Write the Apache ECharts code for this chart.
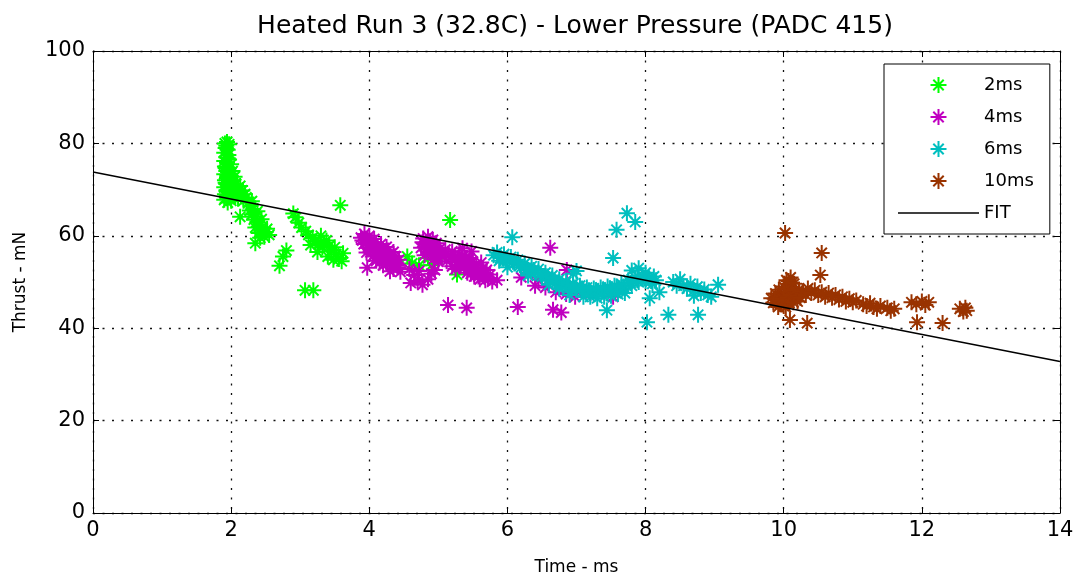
<!DOCTYPE html>
<html>
<head>
<meta charset="utf-8">
<script src="https://cdn.jsdelivr.net/npm/echarts@6/dist/echarts.min.js"></script>
<style>
  html, body { margin: 0; padding: 0; background: #fff; }
  #chart { width: 1078px; height: 581px; }
</style>
</head>
<body>
<div id="chart"></div>
<script>
// Thrust readings (mN) against time (ms) for each pulse width, plus a linear fit.
const xTicks = [0, 2, 4, 6, 8, 10, 12, 14];
const yTicks = [0, 20, 40, 60, 80, 100];
const seriesNames = ['2ms', '4ms', '6ms', '10ms', 'FIT'];

const pts2ms = [
  [1.91,80],[1.94,80.3],[1.97,79.8],[1.92,79],[1.95,78.6],[1.9,78],[1.96,77.5],[1.93,77],
  [1.9,76.2],[1.97,76.5],[1.94,75.8],[1.91,75],[1.96,74.6],[1.93,74],[1.9,73.3],[1.98,73.5],
  [1.94,72.7],[1.91,72],[1.97,71.8],[1.93,71.2],[1.9,70.5],[1.96,70.6],[1.93,69.8],[1.91,69],
  [1.98,69.3],[1.94,68.4],[1.9,67.8],[2.0,67.6],[1.95,67.2],
  [1.93,79.5],[1.95,76.8],[1.92,74.7],[1.95,73.2],[1.92,71.5],[1.96,69.4],[1.99,72.5],
  [2.0,75.5],[2.02,74],[2.05,72.8],[2.0,71.5],[2.07,71.2],[2.03,70],[2.1,70.3],[2.12,69.2],
  [2.06,68.6],[2.15,68.5],[2.2,69],[2.18,67.6],[2.25,67.2],[2.1,68],
  [2.02,69.2],[2.08,69.8],[2.13,70.8],[2.16,69.8],[2.22,68.3],[2.03,72],
  [2.28,66.5],[2.32,65.8],[2.3,64.6],[2.36,64.2],[2.38,63],[2.42,62.5],[2.35,61.8],[2.45,61.3],
  [2.4,60.6],[2.5,60.8],[2.55,60.2],[2.48,59.8],[2.35,58.4],[2.13,64.1],
  [2.27,65.5],[2.33,63.5],[2.4,62],[2.44,63.6],[2.38,65.3],[2.3,67.5],[2.52,61.5],[2.42,59.6],
  [2.7,53.5],[2.75,55.5],[2.8,56.8],
  [2.9,64.8],[2.93,64],[3.07,48.2],[3.19,48.2],[3.58,66.6],
  [2.98,62.8],[3.02,61.8],[3.08,61],[3.12,60.2],[3.18,59.5],[3.22,58.8],[3.15,58],[3.27,58.2],
  [3.32,57.5],[3.3,60],[3.38,59],[3.42,57.8],[3.45,56.8],[3.5,57.5],[3.52,56],[3.56,55],
  [3.6,54.5],[3.48,54.8],[3.4,55.5],[3.62,56.2],[3.35,58.5],[3.25,56.5],
  [4.55,55.5],[4.62,54],[4.72,53.6],[4.85,55.2],[4.9,53.6],[5.05,55.6],[5.27,51.6],[5.17,63.4]
];

const pts4ms = [
  [3.88,59.6],[3.93,60.4],[3.97,59.2],[4.0,60],[3.92,58.2],[4.03,58.6],[4.07,59.3],[4.1,57.8],
  [3.98,57.4],[4.05,56.8],[4.13,56.5],[4.17,58.2],[4.2,57],[4.15,55.3],[4.23,55.8],[4.27,56.8],
  [4.3,55.2],[4.25,54],[4.33,54.2],[4.37,55.6],[4.4,53.6],[4.35,52.8],[4.43,54.8],[4.3,52.3],
  [4.2,53.6],[4.1,54.6],[4.45,52.2],[3.97,53.1],
  [3.9,59],[3.95,58.6],[4.0,58.2],[4.02,57.3],[4.08,56],[4.12,55.8],[4.18,56.8],[4.22,54.8],
  [4.28,55.6],[4.32,53.6],[4.38,54],[4.42,53.2],[4.05,55.5],[4.15,54.2],[3.96,56.4],[4.25,57.6],
  [4.35,56.5],
  [4.78,59.4],[4.85,59.8],[4.92,59.1],[4.82,58.2],[4.9,57.6],[4.97,58.4],[4.75,57.4],[4.87,56.6],
  [4.95,56.2],[5.02,57.2],[5.05,55.6],[4.93,55],[4.8,55.8],[5.0,54.4],
  [4.83,57.3],[4.88,58.8],[4.95,57.5],[4.98,55.4],[4.9,56.3],[5.03,56.2],[4.77,58.6],
  [4.58,52.8],[4.65,51.5],[4.7,50.2],[4.77,49.4],[4.85,50.6],[4.9,51.8],[4.6,49.8],[4.95,52.6],
  [4.72,52.4],
  [5.1,57],[5.15,55.8],[5.2,56.6],[5.25,55],[5.12,54.5],[5.3,56],[5.35,57.3],[5.32,54.2],
  [5.4,55.2],[5.38,53.2],[5.45,54],[5.48,56.6],[5.5,52.8],[5.55,53.8],[5.42,52],[5.58,52.2],
  [5.62,54.2],[5.65,51.6],[5.7,52.6],[5.72,50.8],[5.6,50.6],[5.52,51.2],[5.25,52.8],[5.2,53.4],
  [5.78,50.1],[5.85,50.4],
  [5.18,55.4],[5.28,54.4],[5.35,55.8],[5.45,55.2],[5.5,54.4],[5.56,52.6],[5.64,53],[5.68,51.8],
  [5.3,53.4],[5.4,53.6],[5.47,51.8],[5.58,51.2],[5.75,51.6],[5.68,50.4],
  [5.14,45],[5.41,44.4],[6.15,44.6],[6.62,57.4],[6.66,44],[6.78,43.4],
  [6.3,52],[6.45,50.6],[6.55,48.8],[6.7,47.8],[6.85,47.4],[6.98,46.8],[7.05,48.4],[6.86,52.6],
  [6.4,49.2],[7.53,46.8],[6.2,51],[7.2,47.5]
];

const pts6ms = [
  [5.8,55.8],[5.85,56.4],[5.9,55.2],[5.95,56],[6.0,54.6],[6.05,55.4],[6.1,54],[6.15,54.8],
  [6.2,53.2],[6.25,54],[6.3,52.6],[6.35,53.4],[6.4,52],[6.45,52.8],[6.5,51.2],[6.55,52],
  [6.6,50.6],[6.65,51.4],[6.7,49.8],[6.75,50.6],[6.8,49.2],[6.85,50],[6.9,48.8],[6.95,49.6],
  [7.0,48.4],[7.05,49.2],[7.1,48],[7.15,48.8],[7.2,47.6],[7.25,48.6],[7.3,47.8],[7.35,48.8],
  [7.4,48],[7.45,49],[7.5,48.2],[7.55,49.2],[7.6,48.4],[7.65,49.6],[7.7,48.6],[7.75,50.4],
  [7.8,49.2],[7.85,51],[7.9,50],[7.95,51.2],[8.0,50.2],[8.05,50.8],[8.1,49.6],[8.15,50.4],
  [5.88,54.6],[5.98,55],[6.08,54.4],[6.18,53.6],[6.28,52.8],[6.38,52.6],[6.48,51.6],[6.58,51.2],
  [6.68,50.4],[6.78,49.6],[6.88,49.2],[6.98,48.8],[7.08,48.6],[7.18,48.2],[7.28,48.2],[7.38,48.2],
  [7.48,48.6],[7.58,48.8],[7.68,49],[7.78,49.8],[7.88,50.4],[7.98,50.8],[8.08,50.2],[8.12,51.2],
  [6.6,49.4],[6.75,48.6],[7.2,46.8],[7.4,46.8],[7.6,47.4],[7.7,47.6],
  [6.0,53.2],[6.3,51.4],[6.9,47.2],[7.1,46.8],[7.3,46.5],[7.5,47],[6.95,51.8],[7.0,52.4],
  [7.8,52.5],[7.9,53],[8.0,52],
  [8.4,50],[8.45,49.2],[8.5,50.6],[8.55,49.2],[8.6,48.6],[8.65,49.6],[8.7,48.2],[8.75,49],
  [8.8,47.6],[8.85,48.4],[8.9,47.2],[8.95,46.8],[9.05,49.4],[8.7,47],
  [6.07,59.7],[7.58,61.3],[7.73,64.9],[7.85,63],[7.53,55.2],[7.44,43.9],[8.06,46.5],[8.02,41.3],
  [8.33,42.9],[8.76,42.9],[8.2,47.8]
];

const pts10ms = [
  [9.82,46.5],[9.85,45.5],[9.88,47.5],[9.9,46.2],[9.93,48.3],[9.95,45.2],[9.97,47],[10.0,49],
  [10.02,46],[10.03,44.6],[10.05,47.8],[10.07,50.2],[10.08,45.5],[10.1,48.5],[10.12,46.8],[10.15,49.6],
  [10.18,47.6],[10.2,45.8],[10.22,48.4],[10.1,51],[10.0,44.8],
  [9.87,46.4],[9.92,44.6],[9.98,46.4],[10.04,48.6],[10.06,46.6],[10.1,47.2],[10.14,45.6],[10.16,48.2],
  [10.2,47],[10.24,46.6],[10.12,49.8],[10.04,50.4],
  [10.28,48],[10.32,47.2],[10.35,48.6],[10.4,47.6],[10.45,48.2],[10.5,47.2],[10.55,47.8],[10.6,46.8],
  [10.65,47.6],[10.7,46.6],[10.75,47.2],[10.8,46.2],[10.85,46.8],[10.9,45.8],[10.95,46.4],[11.0,45.6],
  [11.05,46],[11.15,45.2],[11.2,44.8],[11.25,45.4],[11.3,44.6],[11.35,44.2],[11.4,44.8],[11.5,44.4],
  [11.55,43.8],[11.6,44.2],
  [11.85,45.6],[11.92,45.2],[12.0,45.8],[12.05,45],[12.1,45.6],[11.93,41.3],[12.3,41.1],
  [12.55,44.2],[12.6,43.6],[12.63,44.4],[12.65,43.8],
  [10.02,60.6],[10.55,56.3],[10.53,51.5],[10.09,41.8],[10.34,41.1]
];

// Linear fit end points
const fitLine = [[0, 73.8], [14, 32.8]];

const colors = ['#00ff00', '#c000c0', '#00bfbf', '#993300', '#000000'];
const FONT = 'DejaVu Sans';
// asterisk marker: a plus with shorter diagonals
const STAR = 'path://M0,-10L0,10M-10,0L10,0M-6.5,-6.5L6.5,6.5M-6.5,6.5L6.5,-6.5';
// flat bar used as the fit line's legend icon
const LINE_ICON = 'path://M0,0H100V1.6H0Z';

function scatterSeries(name, data, color) {
  return {
    name: name,
    type: 'scatter',
    data: data,
    symbol: STAR,
    symbolSize: 16,
    itemStyle: { color: color, borderColor: color, borderWidth: 2, opacity: 1 },
    emphasis: { disabled: true },
    xAxisIndex: 0,
    yAxisIndex: 0
  };
}

const dotted = { show: true, lineStyle: { color: '#111', width: 1.3, type: [2, 7.5] } };
const axisLine = { show: true, onZero: false, lineStyle: { color: '#000', width: 1 } };
const tickIn = { show: true, inside: true, length: 6, lineStyle: { color: '#000', width: 1 } };

const chart = echarts.init(document.getElementById('chart'), null, { renderer: 'canvas' });
chart.setOption({
  backgroundColor: '#ffffff',
  animation: false,
  textStyle: { fontFamily: FONT },
  title: {
    text: 'Heated Run 3 (32.8C) - Lower Pressure (PADC 415)',
    left: 570,
    top: 9,
    textAlign: 'center',
    textStyle: { fontFamily: FONT, fontSize: 25, fontWeight: 'normal', color: '#000' }
  },
  grid: { left: 93, right: 18, top: 51, bottom: 68 },
  legend: {
    orient: 'vertical',
    left: 884,
    top: 64,
    padding: [12, 16, 12, 14],
    itemWidth: 81,
    itemHeight: 16,
    itemGap: 14,
    borderColor: '#000',
    borderWidth: 1,
    backgroundColor: '#fff',
    textStyle: { fontFamily: FONT, fontSize: 18, color: '#000' },
    itemStyle: { borderWidth: 2 },
    data: [
      seriesNames[0], seriesNames[1], seriesNames[2], seriesNames[3],
      { name: seriesNames[4], icon: LINE_ICON, itemStyle: { borderWidth: 0 } }
    ]
  },
  xAxis: [
    {
      type: 'value', min: xTicks[0], max: xTicks[xTicks.length - 1], interval: 2,
      name: 'Time - ms', nameLocation: 'middle', nameGap: 46,
      nameTextStyle: { fontFamily: FONT, fontSize: 17, color: '#000' },
      axisLine: axisLine, axisTick: tickIn,
      axisLabel: { fontFamily: FONT, fontSize: 21, color: '#000', margin: 7 },
      splitLine: dotted
    },
    {
      type: 'value', position: 'top', min: xTicks[0], max: xTicks[xTicks.length - 1], interval: 2,
      axisLine: axisLine, axisTick: tickIn, axisLabel: { show: false }, splitLine: { show: false }
    }
  ],
  yAxis: [
    {
      type: 'value', min: yTicks[0], max: yTicks[yTicks.length - 1], interval: 20,
      name: 'Thrust - mN', nameLocation: 'middle', nameGap: 64,
      nameTextStyle: { fontFamily: FONT, fontSize: 17, color: '#000' },
      axisLine: axisLine, axisTick: tickIn,
      axisLabel: { fontFamily: FONT, fontSize: 21, color: '#000', margin: 8 },
      splitLine: dotted
    },
    {
      type: 'value', position: 'right', min: yTicks[0], max: yTicks[yTicks.length - 1], interval: 20,
      axisLine: axisLine, axisTick: tickIn, axisLabel: { show: false }, splitLine: { show: false }
    }
  ],
  series: [
    scatterSeries(seriesNames[0], pts2ms, colors[0]),
    scatterSeries(seriesNames[1], pts4ms, colors[1]),
    scatterSeries(seriesNames[2], pts6ms, colors[2]),
    scatterSeries(seriesNames[3], pts10ms, colors[3]),
    {
      name: seriesNames[4],
      type: 'line',
      data: fitLine,
      symbol: 'none',
      lineStyle: { color: colors[4], width: 1.5 },
      itemStyle: { color: colors[4] },
      emphasis: { disabled: true },
      z: 5
    }
  ]
});
</script>
</body>
</html>
